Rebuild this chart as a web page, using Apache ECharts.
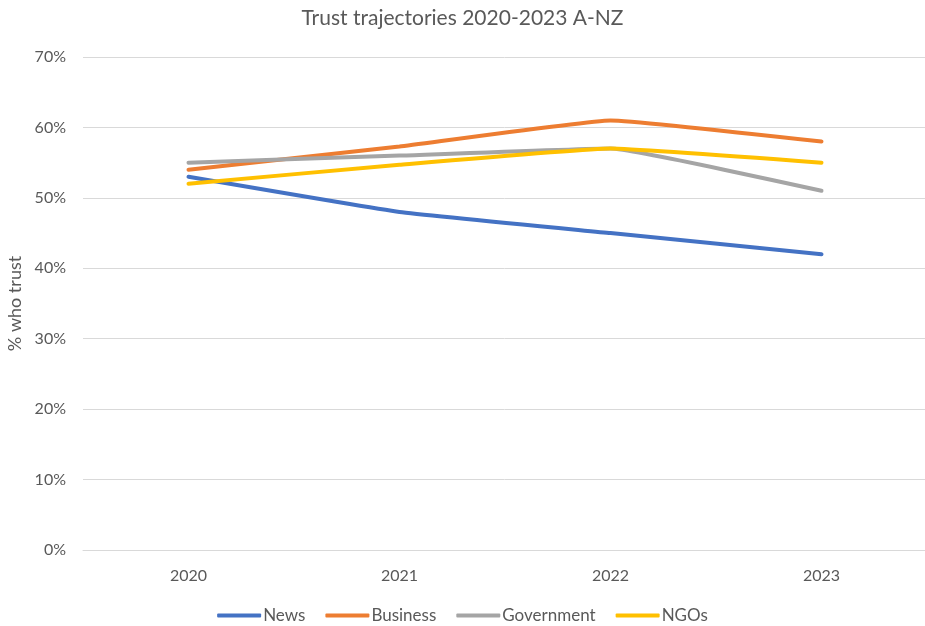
<!DOCTYPE html>
<html>
<head>
<meta charset="utf-8">
<script src="https://cdn.jsdelivr.net/npm/echarts@6/dist/echarts.min.js"></script>
<style>
  html, body { margin: 0; padding: 0; background: #fff; }
  #chart { width: 925px; height: 626px; }
</style>
</head>
<body>
<div id="chart"></div>
<script>
// Survey years and trust share (%) per institution
const years = ['2020', '2021', '2022', '2023'];
const news = [53, 48, 45, 42];
const business = [54, 57.3, 61, 58];
const government = [55, 56, 57, 51];
const ngos = [52, 54.7, 57, 55];
const yTicks = [0, 10, 20, 30, 40, 50, 60, 70];

const seriesDefs = [
  { name: 'News', data: news, color: '#4472C4' },
  { name: 'Business', data: business, color: '#ED7D31' },
  { name: 'Government', data: government, color: '#A5A5A5' },
  { name: 'NGOs', data: ngos, color: '#FFC000' }
];

const font = 'Lato, "Open Sans", sans-serif';
const textColor = '#595959';

const chart = echarts.init(document.getElementById('chart'), null, { renderer: 'canvas' });
chart.setOption({
  animation: false,
  title: {
    text: 'Trust trajectories 2020-2023 A-NZ',
    left: 'center',
    top: 3,
    textStyle: { fontFamily: font, fontSize: 21, fontWeight: 'normal', color: textColor }
  },
  legend: {
    bottom: -3,
    left: 'center',
    icon: 'roundRect',
    itemWidth: 44,
    itemHeight: 4,
    itemGap: 20,
    textStyle: { fontFamily: font, fontSize: 17, color: textColor, padding: [0, 0, 0, -3] },
    data: seriesDefs.map(s => s.name)
  },
  grid: { left: 83, top: 57, bottom: 76, width: 844, containLabel: false, outerBoundsMode: 'none' },
  xAxis: {
    type: 'category',
    data: years,
    boundaryGap: true,
    axisLine: { show: true, lineStyle: { color: '#d9d9d9', width: 1 } },
    axisTick: { show: false },
    axisLabel: { fontFamily: font, fontSize: 16, color: textColor, margin: 18 }
  },
  yAxis: {
    type: 'value',
    min: yTicks[0],
    max: yTicks[yTicks.length - 1],
    interval: 10,
    name: '% who trust',
    nameLocation: 'middle',
    nameGap: 58,
    nameTextStyle: { fontFamily: font, fontSize: 18, color: textColor },
    axisLine: { show: false },
    axisTick: { show: false },
    axisLabel: { fontFamily: font, fontSize: 16, color: textColor, margin: 17, formatter: v => v + '%' },
    splitLine: { lineStyle: { color: '#d9d9d9', width: 1 } }
  },
  series: seriesDefs.map(s => ({
    name: s.name,
    type: 'line',
    data: s.data,
    smooth: 0.1,
    showSymbol: false,
    symbol: 'none',
    color: s.color,
    lineStyle: { width: 4, color: s.color, cap: 'round' }
  }))
});
</script>
</body>
</html>
